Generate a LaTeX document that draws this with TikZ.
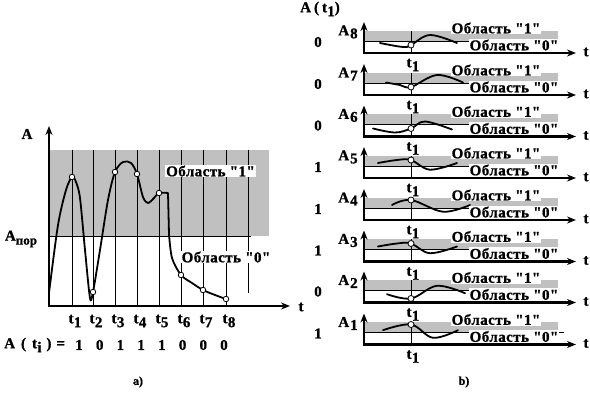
\documentclass[tikz,border=0pt]{standalone}
\usepackage{fontspec}
\setmainfont{Liberation Serif}[BoldFeatures={FakeBold=1}]
\newfontfamily\spacedfont{Liberation Serif}[LetterSpace=3,BoldFeatures={FakeBold=1}]
\usetikzlibrary{arrows.meta}
\definecolor{bandgray}{RGB}{192,192,192}
\newcommand{\tsb}[1]{t\kern0.3pt\raisebox{-4pt}{#1}}
\tikzset{
  txt/.style={font=\bfseries\fontsize{15}{17}\selectfont, inner sep=1pt},
  region/.style={font=\spacedfont\bfseries\fontsize{15}{17}\selectfont, fill=white, inner sep=1pt},
  axisline/.style={line width=2.4pt, line join=miter, {Stealth[length=9pt,width=7pt]}-{Stealth[length=9pt,width=7pt]}},
  gridline/.style={line width=0.8pt},
  sig/.style={line width=1.8pt, line join=round, line cap=round},
  dot/.style={circle, draw, fill=white, line width=0.8pt, inner sep=0pt, minimum size=5.5pt},
}
\newcommand{\subplot}[6]{%
\begin{scope}[shift={(0,#3)}]
 \fill[bandgray] (364,-22) rectangle (558,-12);
 \draw[gridline] (364,-12) -- (#6,-12);
 \draw[gridline] (411,-22) -- (411,0);
 \draw[sig] plot[smooth,tension=0.6] coordinates {#4};
 \node[dot, minimum size=6pt] (mk#1) at (411,#5) {};
 \node[region] (one#1) at (496,-25) {Область "1"};
 \node[region] (zero#1) at (514,-8) {Область "0"};
 \coordinate (ytop#1) at (364,-31);
 \coordinate (org#1) at (364,0);
 \coordinate (xend#1) at (576,0);
 \draw[axisline] (ytop#1) -- (org#1) -- (xend#1);
 \node[txt] (tax#1) at (586,-1) {t};
 \node[txt] (alab#1) at (348,-21) {A\kern1pt\raisebox{-3pt}{#1}};
 \node[txt] (bit#1) at (318,-11) {#2};
 \node[txt] (tl#1) at (413,12) {\tsb{1}};
\end{scope}}
\begin{document}
\begin{tikzpicture}[x=1pt,y=-1pt]
\useasboundingbox (0,0) rectangle (590,393);
% ---------- panel a ----------
\fill[bandgray] (49,150) rectangle (269,236);
\draw[gridline] (49,236) -- (251,236);
\foreach \x in {72,93,115,137,159,181,203,226} \draw[gridline] (\x,150) -- (\x,306);
\draw[gridline] (248,150) -- (248,293);
\draw[sig] plot[smooth,tension=0.5] coordinates {(49,293) (58,225) (66,190) (72,177) (76,182) (80,198) (85,250) (90,298) (93,292) (100,250) (108,200) (115,172) (123,162) (131,163) (137,174) (143,197) (148,203) (154,198) (159,193) (168,193)}
  -- plot[smooth,tension=0.5] coordinates {(169,234) (172,258) (181,275) (192,283) (203,290) (215,295) (226,299)};
\node[dot] (m1) at (72,177) {};
\node[dot] (m2) at (93,292) {};
\node[dot] (m3) at (115,172) {};
\node[dot] (m4) at (137,174) {};
\node[dot] (m5) at (159,193) {};
\node[dot] (m6) at (181,275) {};
\node[dot] (m7) at (203,290) {};
\node[dot] (m8) at (226,299) {};
\node[region] (r1) at (210.5,171) {Область "1"};
\node[region] (r0) at (226,257) {Область "0"};
\coordinate (ytop) at (49,126);
\coordinate (org) at (49,306);
\coordinate (xend) at (290,306);
\draw[axisline] (ytop) -- (org) -- (xend);
\node[txt] (Alab) at (27,134) {A};
\node[txt] (Apor) at (21,239) {A\raisebox{-4pt}{\fontsize{13}{13}\selectfont пор}};
\node[txt] (tax) at (301,307) {t};
\foreach \x/\i in {72/1,93/2,115/3,137/4,159/5,181/6,203/7,226/8}
  \node[txt] (tt\i) at (\x+3,321) {\tsb{\i}};
\node[txt, anchor=west] (Ati) at (3,345) {A\hspace{6pt}(\hspace{6pt}\tsb{i}\hspace{5pt})\hspace{5pt}=};
\foreach \x/\b/\i in {79/1/1,99.7/0/2,120.4/1/3,141.1/1/4,161.9/1/5,182.6/0/6,203.3/0/7,224/0/8}
  \node[txt] (bb\i) at (\x,345) {\b};
\node[txt, font=\bfseries\fontsize{12}{13}\selectfont] (capa) at (138,382) {a)};
% ---------- panel b ----------
\node[txt, anchor=west] (At1) at (299,9) {A\hspace{3pt}(\hspace{3pt}\tsb{1})};
\subplot{8}{0}{53}{(380,-10) (403,-6) (411,-8) (430,-18) (457,-10)}{-8}{557}
\subplot{7}{0}{95}{(386,-12.5) (400,-10) (411,-8) (437,-20) (463,-12.5)}{-8}{557}
\subplot{6}{0}{136.5}{(373,-8) (395,-4) (411,-8) (425,-15) (452,-7)}{-8}{557}
\subplot{5}{1}{178}{(378,-15) (397,-18) (411,-18) (430,-8.3) (457,-15)}{-18}{557}
\subplot{4}{1}{220}{(392,-15) (411,-20) (443,-8.3) (470,-15)}{-20}{557}
\subplot{3}{1}{261.5}{(378,-15) (397,-18) (411,-18) (430,-8.3) (457,-15)}{-18}{557}
\subplot{2}{0}{302.5}{(387,-8.3) (411,-4) (437,-16.7) (465,-9.3)}{-4}{557}
\subplot{1}{1}{344.5}{(383,-14.3) (411,-20) (433,-6.7) (458,-14.3)}{-20}{564}
\node[txt, font=\bfseries\fontsize{12}{13}\selectfont] (capb) at (464,382) {b)};
\end{tikzpicture}
\end{document}
